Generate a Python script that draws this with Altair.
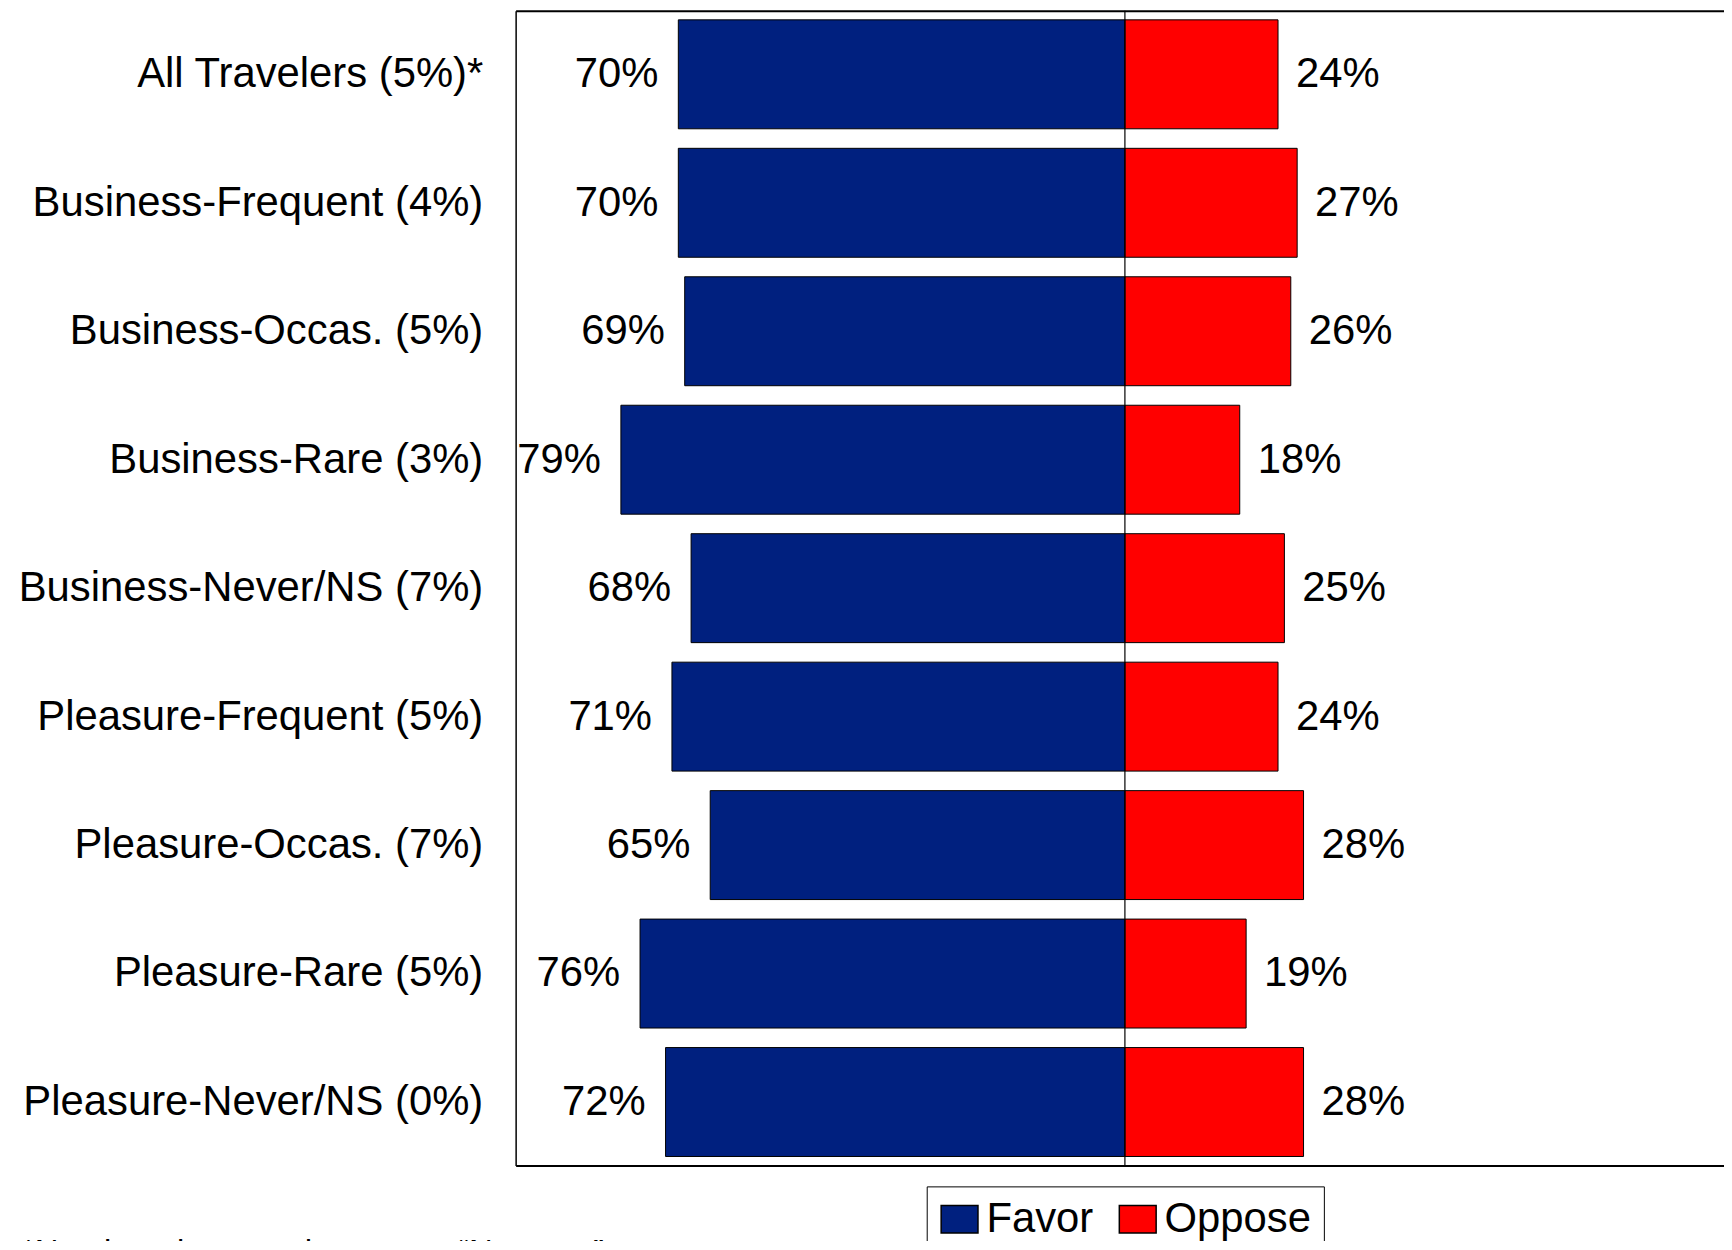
import altair as alt
import pandas as pd

categories = [
    "All Travelers (5%)*",
    "Business-Frequent (4%)",
    "Business-Occas. (5%)",
    "Business-Rare (3%)",
    "Business-Never/NS (7%)",
    "Pleasure-Frequent (5%)",
    "Pleasure-Occas. (7%)",
    "Pleasure-Rare (5%)",
    "Pleasure-Never/NS (0%)",
]
favor = [70, 70, 69, 79, 68, 71, 65, 76, 72]
oppose = [24, 27, 26, 18, 25, 24, 28, 19, 28]
groups = ["Favor", "Oppose"]
colors = ["#00207F", "#FF0000"]
footnote = "*Numbers in parentheses are \u201cNot sure\u201d"

FONT = "Liberation Sans"

rows = []
for c, f, o in zip(categories, favor, oppose):
    rows.append({"cat": c, "group": "Favor", "start": 0, "end": -f, "value": f,
                 "label": f"{f}%"})
    rows.append({"cat": c, "group": "Oppose", "start": 0, "end": o, "value": o,
                 "label": f"{o}%"})
df = pd.DataFrame(rows)

xscale = alt.Scale(domain=[-95.5, 96.4], nice=False, zero=False)
yaxis = alt.Axis(domain=True, domainColor="black", domainWidth=1.5, ticks=False,
                 grid=False, labelFont=FONT, labelFontSize=42, labelColor="black",
                 labelPadding=33, labelLimit=700, title=None)
yenc = alt.Y("cat:N", sort=categories,
             scale=alt.Scale(paddingInner=0.152, paddingOuter=0.07), axis=yaxis)

bars = alt.Chart(df).mark_bar(stroke="black", strokeWidth=1).encode(
    y=yenc,
    x=alt.X("start:Q", scale=xscale,
            axis=alt.Axis(orient="bottom", labels=False, ticks=False, grid=False,
                          domainColor="black", domainWidth=2, title=None)),
    x2="end:Q",
    color=alt.Color("group:N", scale=alt.Scale(domain=groups, range=colors),
                    title=None,
                    legend=alt.Legend(orient="none", legendX=413, legendY=1181,
                                      direction="horizontal",
                                      labelFont=FONT, labelFontSize=42,
                                      labelColor="black", labelOffset=6,
                                      symbolType="M-1,-0.75H1V0.75H-1Z",
                                      symbolSize=1369, symbolStrokeColor="black",
                                      symbolStrokeWidth=1.5,
                                      columnPadding=22, padding=12,
                                      strokeColor="black", fillColor="white")),
)

favor_text = alt.Chart(df[df.group == "Favor"]).mark_text(
    align="right", baseline="middle", dx=-20, font=FONT, fontSize=42, color="black"
).encode(y=yenc, x=alt.X("end:Q", scale=xscale, axis=None), text="label:N")

oppose_text = alt.Chart(df[df.group == "Oppose"]).mark_text(
    align="left", baseline="middle", dx=18, font=FONT, fontSize=42, color="black"
).encode(y=yenc, x=alt.X("end:Q", scale=xscale, axis=None), text="label:N")

center = alt.Chart(pd.DataFrame({"x": [0]})).mark_rule(
    color="black", strokeWidth=1.2
).encode(
    x=alt.X("x:Q", scale=xscale,
            axis=alt.Axis(orient="top", labels=False, ticks=False, grid=False,
                          domainColor="black", domainWidth=2, title=None))
)

note = alt.Chart(pd.DataFrame({"t": [footnote]})).mark_text(
    align="left", baseline="top", font=FONT, fontSize=33, color="black"
).encode(x=alt.value(-496), y=alt.value(1232), text="t:N")

chart = alt.layer(bars, favor_text, oppose_text, center, note).resolve_axis(
    x="independent"
).properties(
    width=1230, height=1160,
    autosize=alt.AutoSizeParams(type="none"),
    padding={"left": 510, "top": 0, "right": -16, "bottom": 73},
).configure_view(stroke=None)

chart.save("out.html", embed_options={"renderer": "svg", "actions": False})
